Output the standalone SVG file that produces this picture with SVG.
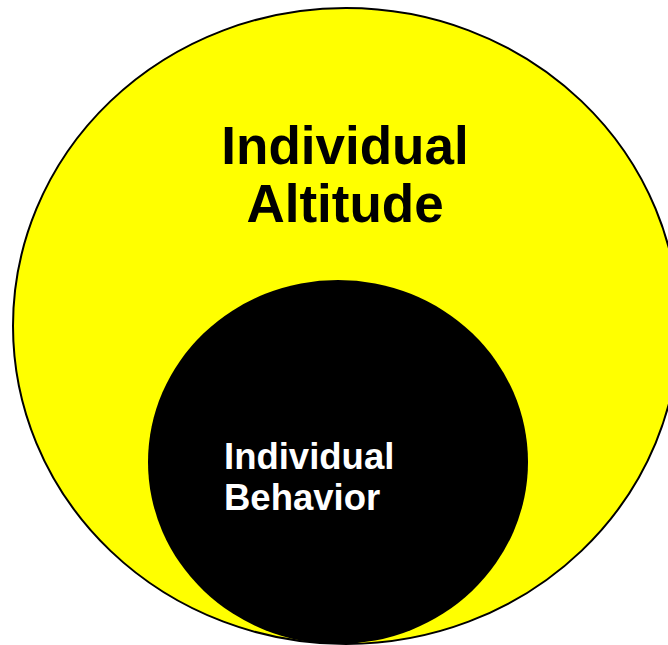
<svg xmlns="http://www.w3.org/2000/svg" width="668" height="645" viewBox="0 0 668 645">
<style>
.t{font-family:"Liberation Sans",Arial,sans-serif;font-weight:bold}
</style>
<rect width="668" height="645" fill="#ffffff"/>
<g id="attitude">
<ellipse cx="346" cy="326" rx="333" ry="318" fill="#ffff00" stroke="#000000" stroke-width="2"/>
<text class="t" x="345" y="164" font-size="53" text-anchor="middle" fill="#000000">Individual</text>
<text class="t" x="345" y="222" font-size="53" text-anchor="middle" fill="#000000">Altitude</text>
</g>
<g id="behavior">
<ellipse cx="338" cy="462" rx="190" ry="182" fill="#000000"/>
<text class="t" x="224" y="469" font-size="36.5" fill="#ffffff">Individual</text>
<text class="t" x="224" y="510" font-size="36.5" fill="#ffffff">Behavior</text>
</g>
<g id="connectors"/>
</svg>
